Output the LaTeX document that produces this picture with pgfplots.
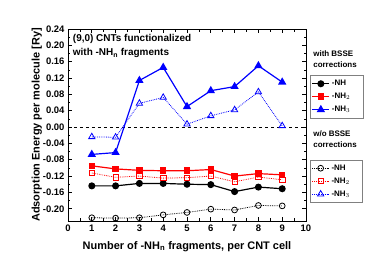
\documentclass[border=0pt]{standalone}
\usepackage{fontspec}
\setmainfont{Liberation Sans}
\usepackage{pgfplots}
\pgfplotsset{compat=1.18}
\begin{document}
\begin{tikzpicture}[font=\bfseries]
\pgfplotsset{
  myaxis/.style={
    scale only axis, width=238bp, height=192bp,
    xmin=0, xmax=10, ymin=-0.23, ymax=0.24,
    clip=false,
  },
  myleg/.style={
    font=\fontsize{8}{10}\selectfont\bfseries, draw=gray, line width=0.4pt,
    row sep=2pt, inner xsep=2pt, inner ysep=3pt, text width=27bp,
  },
}
\begin{axis}[myaxis,
  axis line style={line width=0.9pt},
  tick style={line width=0.7pt, black},
  major tick length=4bp, minor tick length=2.5bp,
  tick align=inside,
  xtick={0,1,...,10}, minor x tick num=1,
  ytick={-0.20,-0.16,...,0.25}, minor y tick num=1,
  yticklabel style={/pgf/number format/.cd, fixed, fixed zerofill, precision=2},
  /pgf/number format/assume math mode=true,
  ticklabel style={font=\fontsize{9.5}{11}\selectfont\bfseries},
  xlabel={Number of -NH$_{\mathbf{n}}$ fragments, per CNT cell},
  ylabel={Adsorption Energy per molecule [Ry]},
  label style={font=\fontsize{11}{13}\selectfont\bfseries},
  xlabel style={yshift=-3bp},
  ylabel style={yshift=-6bp},
  legend style={myleg, at={(rel axis cs:1.015,0.76)}, anchor=north west},
  legend cell align=left,
]
\addplot[black, dashed, line width=0.9pt, forget plot] coordinates {(0,0) (10,0)};
\addplot[black, line width=1.2pt, mark=*, mark size=2.9bp] coordinates {
(1,-0.144) (2,-0.144) (3,-0.138) (4,-0.138) (5,-0.140) (6,-0.141) (7,-0.158) (8,-0.147) (9,-0.151)};
\addplot[red, line width=1.2pt, mark=square*, mark size=2.7bp] coordinates {
(1,-0.095) (2,-0.1025) (3,-0.106) (4,-0.107) (5,-0.107) (6,-0.104) (7,-0.120) (8,-0.114) (9,-0.117)};
\addplot[blue, line width=1.2pt, mark=triangle*, mark size=3.6bp] coordinates {
(1,-0.067) (2,-0.0625) (3,0.114) (4,0.146) (5,0.050) (6,0.089) (7,0.099) (8,0.150) (9,0.110)};
\legend{-NH, -NH$_2$, -NH$_3$}
\node[anchor=north west, align=left, font=\fontsize{10}{14.5}\selectfont\bfseries, inner sep=0pt]
  at (rel axis cs:0.02,0.975) {(9,0) CNTs functionalized\\with -NH$_{\mathbf{n}}$ fragments};
\node[anchor=north west, align=left, font=\fontsize{8}{11}\selectfont\bfseries, inner sep=0pt]
  at (rel axis cs:1.03,0.89) {with BSSE\\corrections};
\node[anchor=north west, align=left, font=\fontsize{8}{11}\selectfont\bfseries, inner sep=0pt]
  at (rel axis cs:1.03,0.47) {w/o BSSE\\corrections};
\end{axis}
\begin{axis}[myaxis, hide axis,
  legend style={myleg, at={(rel axis cs:1.015,0.32)}, anchor=north west},
  legend cell align=left,
]
\addplot[black, densely dotted, line width=0.8pt, mark=o, mark size=2.9bp, mark options={solid, fill=white}] coordinates {
(1,-0.222) (2,-0.223) (3,-0.222) (4,-0.215) (5,-0.209) (6,-0.201) (7,-0.203) (8,-0.192) (9,-0.193)};
\addplot[red, densely dotted, line width=0.8pt, mark=square, mark size=2.7bp, mark options={solid, fill=white}] coordinates {
(1,-0.1125) (2,-0.123) (3,-0.120) (4,-0.125) (5,-0.124) (6,-0.120) (7,-0.134) (8,-0.1225) (9,-0.129)};
\addplot[blue, densely dotted, line width=0.8pt, mark=triangle, mark size=3.6bp, mark options={solid, fill=white}] coordinates {
(1,-0.024) (2,-0.025) (3,0.058) (4,0.0725) (5,0.007) (6,0.0275) (7,0.042) (8,0.086) (9,0.003)};
\legend{-NH, -NH$_2$, -NH$_3$}
\end{axis}
\path[use as bounding box] (-68bp,-43bp) rectangle (306bp,221bp);
\end{tikzpicture}
\end{document}
